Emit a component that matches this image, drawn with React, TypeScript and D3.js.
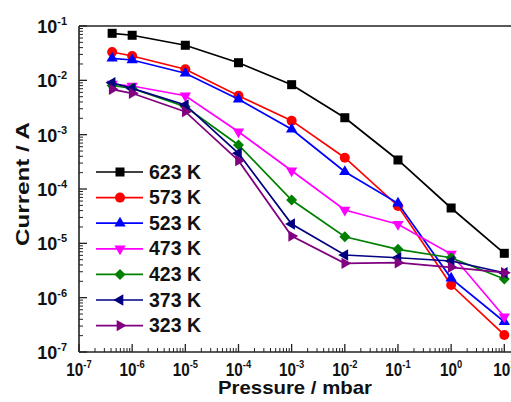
import React from 'react';
import * as d3 from 'd3';

const pressures = [4.2e-7, 1e-6, 1e-5, 1e-4, 1e-3, 1e-2, 1e-1, 1, 10];
const seriesNames = ['623 K', '573 K', '523 K', '473 K', '423 K', '373 K', '323 K'];
const cur623 = [0.0734, 0.0675, 0.0442, 0.0211, 0.00832, 0.00205, 3.42e-4, 4.47e-5, 6.55e-6];
const cur573 = [0.0332, 0.028, 0.016, 0.00521, 0.00181, 3.77e-4, 4.87e-5, 1.71e-6, 2.06e-7];
const cur523 = [0.0254, 0.0237, 0.0135, 0.00448, 0.00126, 2.08e-4, 5.46e-5, 2.27e-6, 3.6e-7];
const cur473 = [0.00855, 0.00787, 0.00521, 0.00113, 2.17e-4, 4.1e-5, 2.24e-5, 6.35e-6, 4.46e-7];
const cur423 = [0.00804, 0.00708, 0.00327, 6.46e-4, 6.27e-5, 1.32e-5, 7.76e-6, 5.43e-6, 2.2e-6];
const cur373 = [0.00904, 0.0071, 0.00352, 4.54e-4, 2.27e-5, 6.1e-6, 5.43e-6, 4.73e-6, 2.88e-6];
const cur323 = [0.00684, 0.00577, 0.00265, 3.32e-4, 1.36e-5, 4.28e-6, 4.4e-6, 3.62e-6, 2.88e-6];
const seriesValues = [cur623, cur573, cur523, cur473, cur423, cur373, cur323];
const colors = ['#000000', '#FF0000', '#0000FF', '#FF00FF', '#008000', '#000080', '#800080'];
const markers = ['square', 'circle', 'up', 'down', 'diamond', 'left', 'right'];
const xTickExps = [-7, -6, -5, -4, -3, -2, -1, 0, 1];
const yTickExps = [-7, -6, -5, -4, -3, -2, -1];
const xTitle = 'Pressure / mbar';
const yTitle = 'Current / A';

const W = 511;
const H = 402;
const left = 79;
const top = 26;
const bottom = 352;
const FONT = '"Liberation Sans", Arial, sans-serif';

const x = d3.scaleLog().domain([1e-7, 10]).range([left, 504.3]);
const y = d3.scaleLog().domain([1e-7, 1e-1]).range([bottom, top]);

function Marker({ kind, cx, cy, color }: { kind: string; cx: number; cy: number; color: string }) {
  const tri = d3.symbol().type(d3.symbolTriangle).size(56)()!;
  if (kind === 'square') {
    return <rect x={cx - 4.5} y={cy - 4.5} width={9} height={9} fill={color} />;
  }
  if (kind === 'circle') {
    return <circle cx={cx} cy={cy} r={5} fill={color} />;
  }
  if (kind === 'diamond') {
    const r = 5.5;
    return <path d={`M${cx},${cy - r}L${cx + r},${cy}L${cx},${cy + r}L${cx - r},${cy}Z`} fill={color} />;
  }
  const rot = kind === 'up' ? 0 : kind === 'down' ? 180 : kind === 'left' ? -90 : 90;
  return <path d={tri} transform={`translate(${cx},${cy}) rotate(${rot})`} fill={color} />;
}

function TickLabel({ x0, y0, exp, anchor, sx }: { x0: number; y0: number; exp: number; anchor: 'middle' | 'end'; sx: number }) {
  return (
    <g transform={`translate(${x0},${y0}) scale(${sx},1)`}>
      <text x={0} y={0} textAnchor={anchor} fontFamily={FONT} fontWeight="bold" fontSize={18} fill="#111">
        10
        <tspan fontSize={11} dy={-8}>{String(exp)}</tspan>
      </text>
    </g>
  );
}

export default function App() {
  const line = d3
    .line<number>()
    .x((_, i) => x(pressures[i]))
    .y((d) => y(d));

  const xMinor: number[] = [];
  for (let e = -7; e <= 1; e++) for (let k = 2; k <= 9; k++) xMinor.push(k * Math.pow(10, e));
  const yMinor: number[] = [];
  for (let e = -7; e < -1; e++) for (let k = 2; k <= 9; k++) yMinor.push(k * Math.pow(10, e));

  const legendX1 = 96;
  const legendX2 = 143;
  const legendY0 = 172;
  const legendStep = 25.6;

  return (
    <svg width={W} height={H} style={{ position: 'absolute', left: 0, top: 0 }} xmlns="http://www.w3.org/2000/svg">
      <rect x={0} y={0} width={W} height={H} fill="#fff" />
      {/* frame */}
      <line x1={left} y1={top} x2={W + 10} y2={top} stroke="#222" strokeWidth={1.6} />
      <line x1={left} y1={top} x2={left} y2={bottom} stroke="#222" strokeWidth={1.6} />
      <line x1={left} y1={bottom} x2={W + 10} y2={bottom} stroke="#222" strokeWidth={1.6} />
      {/* x ticks */}
      {xTickExps.map((e) => (
        <line key={'xM' + e} x1={x(Math.pow(10, e))} x2={x(Math.pow(10, e))} y1={bottom} y2={bottom - 8} stroke="#222" strokeWidth={1.3} />
      ))}
      {xMinor.map((v, i) => (
        <line key={'xm' + i} x1={x(v)} x2={x(v)} y1={bottom} y2={bottom - 4} stroke="#222" strokeWidth={1} />
      ))}
      {/* y ticks */}
      {yTickExps.map((e) => (
        <line key={'yM' + e} x1={left} x2={left + 8} y1={y(Math.pow(10, e))} y2={y(Math.pow(10, e))} stroke="#222" strokeWidth={1.3} />
      ))}
      {yMinor.map((v, i) => (
        <line key={'ym' + i} x1={left} x2={left + 4} y1={y(v)} y2={y(v)} stroke="#222" strokeWidth={1} />
      ))}
      {/* tick labels */}
      {xTickExps.map((e) => (
        <TickLabel key={'xl' + e} x0={x(Math.pow(10, e))} y0={376} exp={e} anchor="middle" sx={0.85} />
      ))}
      {yTickExps.map((e) => (
        <TickLabel key={'yl' + e} x0={67} y0={y(Math.pow(10, e)) + 7} exp={e} anchor="end" sx={1} />
      ))}
      {/* titles */}
      <text
        x={295}
        y={394}
        textAnchor="middle"
        fontFamily={FONT}
        fontWeight="bold"
        fontSize={19}
        fill="#111"
        textLength={154}
        lengthAdjust="spacingAndGlyphs"
      >
        {xTitle}
      </text>
      <text
        transform="translate(29,184) rotate(-90)"
        textAnchor="middle"
        fontFamily={FONT}
        fontWeight="bold"
        fontSize={19}
        fill="#111"
        textLength={124}
        lengthAdjust="spacingAndGlyphs"
      >
        {yTitle}
      </text>
      {/* series */}
      {seriesValues.map((vals, si) => (
        <g key={'s' + si}>
          <path d={line(vals)!} fill="none" stroke={colors[si]} strokeWidth={1.7} />
          {vals.map((v, i) => (
            <Marker key={i} kind={markers[si]} cx={x(pressures[i])} cy={y(v)} color={colors[si]} />
          ))}
        </g>
      ))}
      {/* legend */}
      {seriesNames.map((name, si) => {
        const ly = legendY0 + si * legendStep;
        return (
          <g key={'lg' + si}>
            <line x1={legendX1} x2={legendX2} y1={ly} y2={ly} stroke={colors[si]} strokeWidth={1.7} />
            <Marker kind={markers[si]} cx={(legendX1 + legendX2) / 2 + 0.5} cy={ly} color={colors[si]} />
            <text x={149} y={ly + 6.5} fontFamily={FONT} fontWeight="bold" fontSize={19.5} fill="#111">
              {name}
            </text>
          </g>
        );
      })}
    </svg>
  );
}
